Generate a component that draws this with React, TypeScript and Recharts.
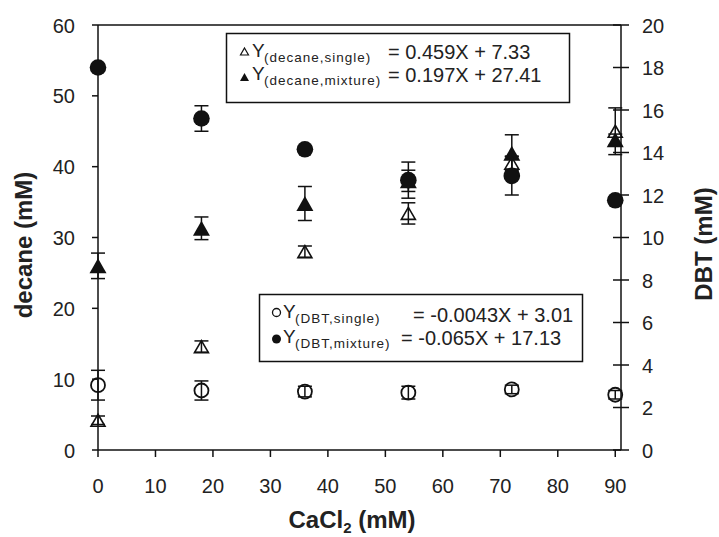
import { ScatterChart, Scatter, XAxis, YAxis, ErrorBar, ReferenceLine } from "recharts";

const CACL2 = [0, 18, 36, 54, 72, 90];
const DECANE_SINGLE = [4.2, 14.6, 28.0, 33.4, 40.5, 45.0];
const DECANE_SINGLE_ERR = [0.6, 0.8, 0.8, 1.5, 1.0, 3.3];
const DECANE_MIXTURE = [26.0, 31.3, 34.8, 38.0, 41.9, 43.8];
const DECANE_MIXTURE_ERR = [1.8, 1.6, 2.4, 1.5, 2.6, 0.8];
const DBT_SINGLE = [3.05, 2.8, 2.75, 2.7, 2.85, 2.6];
const DBT_SINGLE_ERR = [0.7, 0.45, 0.25, 0.3, 0.2, 0.2];
const DBT_MIXTURE = [18.0, 15.6, 14.15, 12.7, 12.9, 11.75];
const DBT_MIXTURE_ERR = [0.15, 0.6, 0.15, 0.85, 0.9, 0.15];

const X_TICKS = [0, 10, 20, 30, 40, 50, 60, 70, 80, 90];
const LEFT_TICKS = [0, 10, 20, 30, 40, 50, 60];
const RIGHT_TICKS = [0, 2, 4, 6, 8, 10, 12, 14, 16, 18, 20];

const FONT = "'Liberation Sans', Arial, sans-serif";
const INK = "#111";
const TXT = "#222";

const rows = (ys: number[], errs: number[]) =>
  CACL2.map((x, i) => ({ x, y: ys[i], err: errs[i] }));

const tri = (cx: number, cy: number, w: number, h: number) =>
  `M${cx},${cy - h / 2} L${cx + w / 2},${cy + h / 2} L${cx - w / 2},${cy + h / 2} Z`;

const OpenTriangle = (p: any) => (
  <path d={tri(p.cx, p.cy, 14, 12)} fill="none" stroke={INK} strokeWidth={1.6} />
);
const FilledTriangle = (p: any) => <path d={tri(p.cx, p.cy, 17, 15)} fill={INK} />;
const OpenCircle = (p: any) => (
  <circle cx={p.cx} cy={p.cy} r={7} fill="none" stroke={INK} strokeWidth={1.8} />
);
const FilledCircle = (p: any) => <circle cx={p.cx} cy={p.cy} r={8.3} fill={INK} />;

const XTick = ({ x, y, payload }: any) => (
  <g>
    <line x1={x} y1={y} x2={x} y2={y + 7} stroke={INK} strokeWidth={1.5} />
    <text x={x} y={y + 43} textAnchor="middle" fontSize={20} fill={TXT} fontFamily={FONT}>
      {payload.value}
    </text>
  </g>
);

const LeftTick = ({ x, y, payload }: any) => (
  <g>
    <line x1={x - 6} y1={y} x2={x} y2={y} stroke={INK} strokeWidth={1.5} />
    <text x={x - 23} y={y + 7.5} textAnchor="end" fontSize={20} fill={TXT} fontFamily={FONT}>
      {payload.value}
    </text>
  </g>
);

const RightTick = ({ x, y, payload }: any) => (
  <g>
    <line x1={x - 8} y1={y} x2={x + 8} y2={y} stroke={INK} strokeWidth={1.5} />
    <text x={x + 21} y={y + 7.5} textAnchor="start" fontSize={20} fill={TXT} fontFamily={FONT}>
      {payload.value}
    </text>
  </g>
);

const errBar = <ErrorBar dataKey="err" direction="y" width={7} stroke={INK} strokeWidth={1.5} />;

export default function App() {
  return (
    <div style={{ position: "absolute", left: 0, top: 0, width: 719, height: 537, background: "#fff" }}>
      <ScatterChart width={719} height={537} margin={{ top: 25, right: 0, bottom: 0, left: 0 }}>
        <XAxis
          type="number"
          dataKey="x"
          domain={[0, 91]}
          ticks={X_TICKS}
          interval={0}
          height={87}
          tickSize={0}
          tickMargin={0}
          tickLine={false}
          tick={<XTick />}
          axisLine={{ stroke: INK, strokeWidth: 1.5 }}
        />
        <YAxis
          yAxisId="left"
          type="number"
          dataKey="y"
          domain={[0, 60]}
          ticks={LEFT_TICKS}
          interval={0}
          width={98}
          tickSize={0}
          tickMargin={0}
          tickLine={false}
          tick={<LeftTick />}
          axisLine={{ stroke: INK, strokeWidth: 1.5 }}
        />
        <YAxis
          yAxisId="right"
          orientation="right"
          type="number"
          dataKey="y"
          domain={[0, 20]}
          ticks={RIGHT_TICKS}
          interval={0}
          width={98}
          tickSize={0}
          tickMargin={0}
          tickLine={false}
          tick={<RightTick />}
          axisLine={{ stroke: INK, strokeWidth: 1.5 }}
        />
        <ReferenceLine yAxisId="left" y={60} stroke={INK} strokeWidth={1.5} />
        <Scatter
          yAxisId="left"
          data={rows(DECANE_MIXTURE, DECANE_MIXTURE_ERR)}
          shape={(p: any) => <FilledTriangle {...p} />}
          isAnimationActive={false}
        >
          {errBar}
        </Scatter>
        <Scatter
          yAxisId="left"
          data={rows(DECANE_SINGLE, DECANE_SINGLE_ERR)}
          shape={(p: any) => <OpenTriangle {...p} />}
          isAnimationActive={false}
        >
          {errBar}
        </Scatter>
        <Scatter
          yAxisId="right"
          data={rows(DBT_SINGLE, DBT_SINGLE_ERR)}
          shape={(p: any) => <OpenCircle {...p} />}
          isAnimationActive={false}
        >
          {errBar}
        </Scatter>
        <Scatter
          yAxisId="right"
          data={rows(DBT_MIXTURE, DBT_MIXTURE_ERR)}
          shape={(p: any) => <FilledCircle {...p} />}
          isAnimationActive={false}
        >
          {errBar}
        </Scatter>
      </ScatterChart>

      <svg
        width={719}
        height={537}
        style={{ position: "absolute", left: 0, top: 0, pointerEvents: "none" }}
        fontFamily={FONT}
      >
        {/* axis titles */}
        <text
          x={32}
          y={245}
          transform="rotate(-90 32 245)"
          textAnchor="middle"
          fontSize={24}
          fontWeight="bold"
          fill={TXT}
        >
          decane (mM)
        </text>
        <text
          x={712}
          y={244}
          transform="rotate(-90 712 244)"
          textAnchor="middle"
          fontSize={24}
          fontWeight="bold"
          fill={TXT}
        >
          DBT (mM)
        </text>
        <text x={352} y={528} textAnchor="middle" fontSize={24} fontWeight="bold" fill={TXT}>
          CaCl<tspan fontSize={15} dy={5}>2</tspan>
          <tspan dy={-5}> (mM)</tspan>
        </text>

        {/* decane legend */}
        <rect x={226.5} y={33.5} width={343} height={69} fill="none" stroke={INK} strokeWidth={1.5} />
        <path d={tri(244.5, 51.5, 8, 7)} fill="none" stroke={INK} strokeWidth={1.2} />
        <text x={252} y={57} fontSize={19} fill={TXT}>Y</text>
        <text x={264} y={62} fontSize={13.5} letterSpacing={1} fill={TXT}>(decane,single)</text>
        <text x={388} y={59} fontSize={20} fill={TXT}>= 0.459X + 7.33</text>
        <path d={tri(244.5, 77, 9, 8)} fill={INK} />
        <text x={252} y={80} fontSize={19} fill={TXT}>Y</text>
        <text x={264} y={85} fontSize={13.5} letterSpacing={1} fill={TXT}>(decane,mixture)</text>
        <text x={388} y={82} fontSize={20} fill={TXT}>= 0.197X + 27.41</text>

        {/* DBT legend */}
        <rect x={259.5} y={294.5} width={323} height={67} fill="none" stroke={INK} strokeWidth={1.5} />
        <circle cx={276.5} cy={312.5} r={4} fill="none" stroke={INK} strokeWidth={1.3} />
        <text x={283} y={318} fontSize={19} fill={TXT}>Y</text>
        <text x={295} y={323} fontSize={13.5} letterSpacing={1} fill={TXT}>(DBT,single)</text>
        <text x={413} y={321.5} fontSize={20} fill={TXT}>= -0.0043X + 3.01</text>
        <circle cx={276.5} cy={339} r={4.5} fill={INK} />
        <text x={283} y={343} fontSize={19} fill={TXT}>Y</text>
        <text x={295} y={348} fontSize={13.5} letterSpacing={1} fill={TXT}>(DBT,mixture)</text>
        <text x={401} y={345} fontSize={20} fill={TXT}>= -0.065X + 17.13</text>
      </svg>
    </div>
  );
}
